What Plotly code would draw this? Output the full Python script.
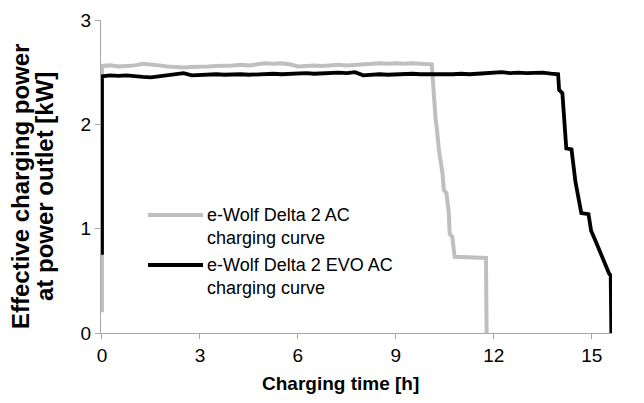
import plotly.graph_objects as go

# ---- data ----
ac_time = [0, 0, 0.25, 0.5, 0.75, 1.0, 1.25, 1.5, 1.75, 2.0, 2.25, 2.5, 2.75, 3.0, 3.25,
           3.5, 3.75, 4.0, 4.25, 4.5, 4.75, 5.0, 5.25, 5.5, 5.75, 6.0, 6.25, 6.5, 6.75,
           7.0, 7.25, 7.5, 7.75, 8.0, 8.25, 8.5, 8.75, 9.0, 9.25, 9.5, 9.75, 10.1,
           10.22, 10.25, 10.32, 10.43, 10.47, 10.55, 10.62, 10.65, 10.73, 10.8,
           11.76, 11.78]
ac_power = [0.2, 2.56, 2.565, 2.555, 2.56, 2.565, 2.58, 2.575, 2.565, 2.555, 2.55, 2.545,
            2.55, 2.55, 2.555, 2.56, 2.56, 2.565, 2.57, 2.565, 2.575, 2.585, 2.58, 2.585,
            2.575, 2.555, 2.56, 2.565, 2.56, 2.565, 2.57, 2.565, 2.57, 2.575, 2.58, 2.585,
            2.58, 2.585, 2.58, 2.585, 2.58, 2.575,
            2.04, 1.98, 1.75, 1.53, 1.37, 1.34, 1.16, 0.95, 0.92, 0.73,
            0.72, 0.0]

evo_time = [0, 0, 0.25, 0.5, 0.75, 1.0, 1.25, 1.5, 1.75, 2.0, 2.25, 2.5, 2.75, 3.0, 3.25,
            3.5, 3.75, 4.0, 4.25, 4.5, 4.75, 5.0, 5.25, 5.5, 5.75, 6.0, 6.25, 6.5, 6.75,
            7.0, 7.25, 7.5, 7.75, 8.0, 8.25, 8.5, 8.75, 9.0, 9.25, 9.5, 9.75, 10.0,
            10.25, 10.5, 10.75, 11.0, 11.25, 11.5, 11.75, 12.0, 12.25, 12.5, 12.75,
            13.0, 13.25, 13.5, 13.75, 13.97,
            14.0, 14.1, 14.22, 14.38, 14.5, 14.68, 14.9, 14.98, 15.12, 15.22, 15.32,
            15.43, 15.53, 15.58, 15.6]
evo_power = [0.75, 2.46, 2.47, 2.465, 2.47, 2.46, 2.455, 2.45, 2.46, 2.475, 2.485, 2.49,
             2.47, 2.475, 2.475, 2.48, 2.475, 2.48, 2.48, 2.475, 2.48, 2.48, 2.485, 2.48,
             2.485, 2.485, 2.49, 2.485, 2.49, 2.49, 2.495, 2.49, 2.50, 2.47, 2.475, 2.48,
             2.475, 2.48, 2.48, 2.485, 2.48, 2.48, 2.475, 2.48, 2.48, 2.485, 2.48, 2.485,
             2.49, 2.49, 2.50, 2.49, 2.495, 2.49, 2.49, 2.495, 2.485, 2.48,
             2.33, 2.30, 1.77, 1.76, 1.45, 1.15, 1.14, 0.98, 0.88, 0.80, 0.72,
             0.64, 0.57, 0.55, 0.0]

series_names = ["e-Wolf Delta 2 AC<br>charging curve",
                "e-Wolf Delta 2 EVO AC<br>charging curve"]
series_colors = ["#bfbfbf", "#000000"]
x_ticks = [0, 3, 6, 9, 12, 15]
y_ticks = [0, 1, 2, 3]
x_title = "Charging time [h]"
y_title_lines = ["Effective charging power", "at power outlet [kW]"]

FONT = "Arial, Liberation Sans, sans-serif"
AXIS_COLOR = "#a6a6a6"
LW = [4, 3.8]

fig = go.Figure()
fig.add_trace(go.Scatter(x=ac_time, y=ac_power, mode="lines", name=series_names[0],
                         line=dict(color=series_colors[0], width=LW[0]), showlegend=False))
fig.add_trace(go.Scatter(x=evo_time, y=evo_power, mode="lines", name=series_names[1],
                         line=dict(color=series_colors[1], width=LW[1]), showlegend=False))

# plot area in pixels
L, R, T, B = 101, 612, 20, 333
def px(xp):
    return (xp - L) / (R - L)
def py(yp):
    return (B - yp) / (B - T)

# custom legend (paper coordinates)
legend_y = [215, 265]
for i in range(2):
    fig.add_shape(type="line", xref="paper", yref="paper",
                  x0=px(148), x1=px(203), y0=py(legend_y[i]), y1=py(legend_y[i]),
                  line=dict(color=series_colors[i], width=LW[i]))
    fig.add_annotation(xref="paper", yref="paper", x=px(205), y=py(legend_y[i] - 12),
                       xanchor="left", yanchor="top", align="left", showarrow=False,
                       text=series_names[i], font=dict(family=FONT, size=18, color="#000"))

# axis titles
fig.add_annotation(xref="paper", yref="paper", x=px(340), y=py(383), showarrow=False,
                   text="<b>" + x_title + "</b>", xanchor="center", yanchor="middle",
                   font=dict(family=FONT, size=19, color="#000"))
for i, xc in enumerate([21, 45]):
    fig.add_annotation(xref="paper", yref="paper", x=px(xc), y=py(187), showarrow=False,
                       text="<b>" + y_title_lines[i] + "</b>",
                       textangle=-90, xanchor="center", yanchor="middle",
                       font=dict(family=FONT, size=24, color="#000"))

fig.update_layout(
    width=644, height=403,
    margin=dict(l=L, r=644 - R, t=T, b=403 - B),
    paper_bgcolor="white", plot_bgcolor="white",
    font=dict(family=FONT, size=19, color="#000"),
    xaxis=dict(range=[-0.03, 15.62], tickvals=x_ticks, ticks="outside", ticklen=5,
               tickcolor=AXIS_COLOR, showline=True, linecolor=AXIS_COLOR, linewidth=1,
               showgrid=False, zeroline=False, automargin=False,
               tickfont=dict(size=19, family=FONT, color="#000")),
    yaxis=dict(range=[0, 3], tickvals=y_ticks, ticks="outside", ticklen=5,
               tickcolor=AXIS_COLOR, showline=True, linecolor=AXIS_COLOR, linewidth=1,
               showgrid=False, zeroline=False, automargin=False,
               tickfont=dict(size=19, family=FONT, color="#000")),
)

fig.write_html("out.html", config={"displayModeBar": False},
               post_script="document.body.style.margin='0';")
